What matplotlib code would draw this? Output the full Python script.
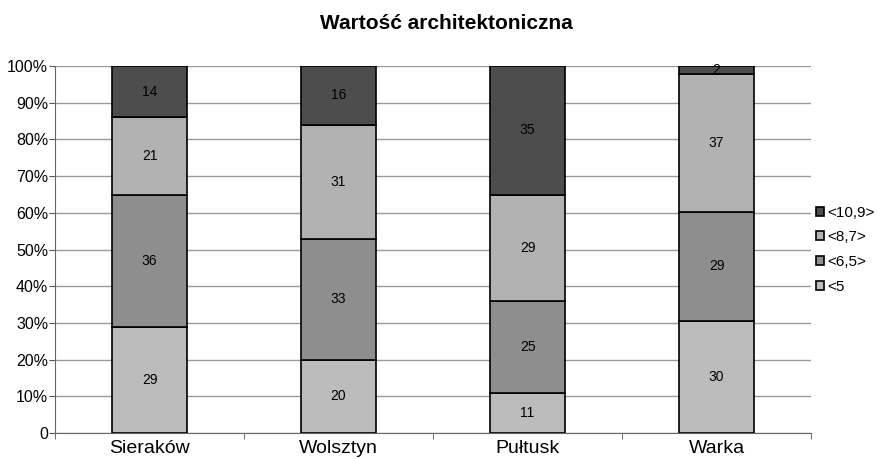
import numpy as np
import matplotlib
matplotlib.use("Agg")
import matplotlib.pyplot as plt

categories = ["Sieraków", "Wolsztyn", "Pułtusk", "Warka"]
series_names = ["<5", "<6,5>", "<8,7>", "<10,9>"]
v_5 = [29, 20, 11, 30]
v_65 = [36, 33, 25, 29]
v_87 = [21, 31, 29, 37]
v_109 = [14, 16, 35, 2]
colors = ["#bcbcbc", "#8e8e8e", "#b2b2b2", "#4d4d4d"]

plt.rcParams['font.family'] = ['Liberation Sans', 'DejaVu Sans']

data = np.array([v_5, v_65, v_87, v_109], dtype=float)
totals = data.sum(axis=0)
pct = data / totals * 100

fig = plt.figure(figsize=(8.92, 4.59), dpi=100)
ax = fig.add_axes([0.0617, 0.0566, 0.9093 - 0.0617, 0.856 - 0.0566])

x = np.arange(len(categories))
bottom = np.zeros(len(categories))
handles = []
for i, name in enumerate(series_names):
    bars = ax.bar(x, pct[i], 0.4, bottom=bottom, color=colors[i],
                  edgecolor="black", linewidth=1.2, label=name, zorder=3)
    handles.append(bars)
    for j, b in enumerate(bars):
        yc = bottom[j] + pct[i][j] / 2
        ax.text(x[j], yc, f"{int(data[i][j])}", ha="center", va="center",
                fontsize=10, zorder=4)
    bottom += pct[i]

ax.set_xlim(-0.5, len(categories) - 0.5)
ax.set_ylim(0, 100)
ax.set_yticks(np.arange(0, 101, 10))
ax.set_yticklabels(["0"] + [f"{v}%" for v in range(10, 101, 10)], fontsize=11.5)
ax.set_xticks(x)
ax.set_xticklabels(categories, fontsize=14)
ax.set_xticks(np.arange(-0.5, len(categories)), minor=True)
ax.tick_params(axis="x", which="major", length=0, pad=5)
ax.tick_params(axis="x", which="minor", length=4, direction="out", color="#555555")
ax.tick_params(axis="y", length=4, direction="out", color="#555555", pad=1)
ax.yaxis.grid(True, color="#9a9a9a", linewidth=1.0, zorder=0)
for s in ["top", "right"]:
    ax.spines[s].set_visible(False)
for s in ["left", "bottom"]:
    ax.spines[s].set_color("#666666")

fig.suptitle("Wartość architektoniczna", fontsize=15, fontweight="bold", y=0.97)

leg = ax.legend(handles[::-1], series_names[::-1], loc="center left",
                bbox_to_anchor=(1.0, 0.5), frameon=False, fontsize=11,
                handlelength=0.55, handleheight=0.55, handletextpad=0.2,
                labelspacing=0.7, borderpad=0, borderaxespad=0.3)

fig.savefig("out.png", dpi=100)
